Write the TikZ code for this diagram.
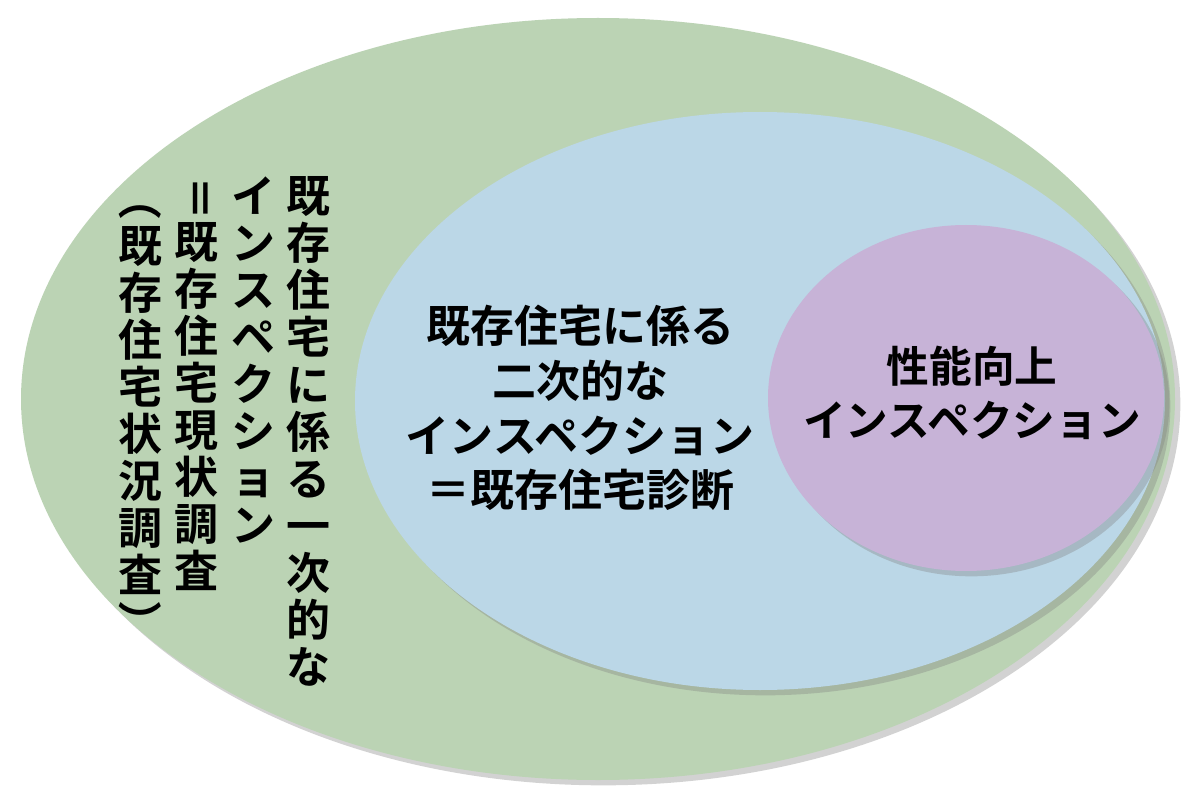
\documentclass[tikz,border=0pt]{standalone}
\usepackage{fontspec}
\newfontfamily\cjk{Noto Sans CJK JP Bold}
\usetikzlibrary{shadows}
\definecolor{gr}{HTML}{BBD3B4}
\definecolor{bl}{HTML}{BBD7E7}
\definecolor{pu}{HTML}{C7B3D7}
\newcommand{\rv}[1]{\rotatebox[origin=c]{-90}{#1}}
\tikzset{
  vcol/.style={anchor=north, align=center, font=\cjk\fontsize{33}{35.3}\selectfont},
  hlab/.style={align=center, font=\cjk\fontsize{33}{41}\selectfont}
}
\begin{document}
\begin{tikzpicture}[x=0.75pt,y=-0.75pt]
\useasboundingbox (0,0) rectangle (1200,806);
\fill[white] (0,0) rectangle (1200,806);
\fill[gr, drop shadow={shadow xshift=4pt,shadow yshift=-4pt,opacity=0.35}] (598,399) ellipse [x radius=577, y radius=381];
\fill[bl, drop shadow={shadow xshift=4pt,shadow yshift=-4pt,opacity=0.35}] (760,401) ellipse [x radius=405, y radius=289];
\fill[pu, drop shadow={shadow xshift=4pt,shadow yshift=-4pt,opacity=0.35}] (966,398) ellipse [x radius=198, y radius=173];
\node[vcol] (c1) at (308,172) {既\\存\\住\\宅\\に\\係\\る\\一\\次\\的\\な};
\node[vcol] (c2) at (253,172) {イ\\ン\\ス\\ペ\\ク\\シ\\ョ\\ン};
\node[vcol] (c3) at (196,172) {\rv{＝}\\既\\存\\住\\宅\\現\\状\\調\\査};
\node[vcol] (c4) at (140,172) {\rv{（}\\既\\存\\住\\宅\\状\\況\\調\\査\\\rv{）}};
\node[hlab] (mid) at (580,408) {既存住宅に係る\\二次的な\\インスペクション\\＝既存住宅診断};
\node[hlab, font=\cjk\fontsize{32}{41}\selectfont] (in) at (972,393) {性能向上\\インスペクション};
\end{tikzpicture}
\end{document}
